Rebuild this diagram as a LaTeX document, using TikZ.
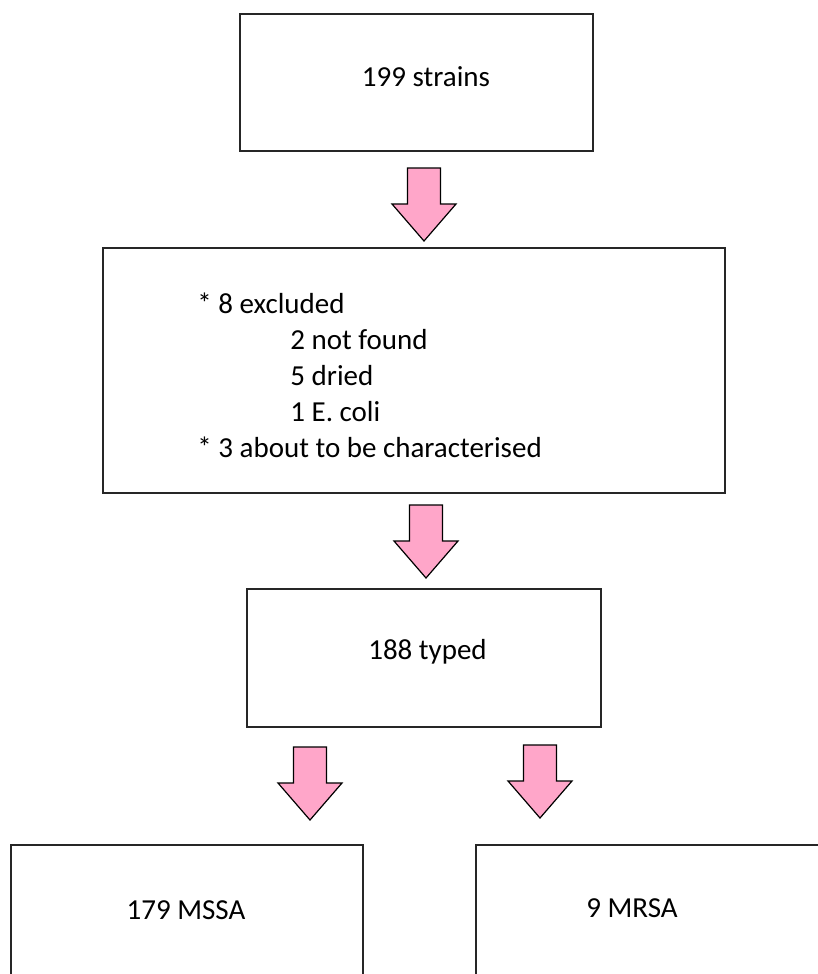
\documentclass[tikz,border=0pt]{standalone}
\usepackage{fontspec}
\setmainfont{Carlito}
\definecolor{rosa}{RGB}{255,166,201}
\tikzset{
    caja/.style={draw=black!85, line width=0.9pt, fill=white, inner sep=0pt},
    texto/.style={inner sep=0pt, font=\fontsize{14.5}{17}\selectfont},
    flecha/.style={fill=rosa, draw=black, line width=0.6pt, line join=miter}
}
\begin{document}
\begin{tikzpicture}[x=0.5pt, y=-0.5pt]
    % Marco del dibujo
    \clip (0,0) rectangle (818,974);
    \fill[white] (0,0) rectangle (818,974);
    
    % Cajas
    \node[caja, minimum width=176.5pt, minimum height=68.5pt] (cepas) at (416.5,82.5) {};
    \node[caja, minimum width=311pt, minimum height=122.5pt] (excluidas) at (414,370.5) {};
    \node[caja, minimum width=177pt, minimum height=69pt] (tipadas) at (424,658) {};
    \node[caja, minimum width=176pt, minimum height=80pt] (mssa) at (187,925) {};
    \node[caja, minimum width=177pt, minimum height=80pt] (mrsa) at (653,925) {};
    
    % Textos de las cajas
    \node[texto, anchor=base] (tcepas) at (426,87) {199 strains};
    \node[texto, anchor=base west] (l1) at (197,313) {* 8 excluded};
    \node[texto, anchor=base west] (l2) at (290,349) {2 not found};
    \node[texto, anchor=base west] (l3) at (290,385) {5 dried};
    \node[texto, anchor=base west] (l4) at (290,421) {1 E. coli};
    \node[texto, anchor=base west] (l5) at (197,457) {* 3 about to be characterised};
    \node[texto, anchor=base] (ttipadas) at (427.5,659) {188 typed};
    \node[texto, anchor=base] (tmssa) at (186,919) {179 MSSA};
    \node[texto, anchor=base] (tmrsa) at (632,917) {9 MRSA};
    
    % Flechas de bloque (punta en \tx,\ty)
    \foreach \tx/\ty in {424/241, 426/578, 310/820, 540/818}
        \filldraw[flecha] (\tx-16.5,\ty-73) -- (\tx+16.5,\ty-73) -- (\tx+16.5,\ty-37)
            -- (\tx+32,\ty-37) -- (\tx,\ty) -- (\tx-32,\ty-37) -- (\tx-16.5,\ty-37) -- cycle;
\end{tikzpicture}
\end{document}
